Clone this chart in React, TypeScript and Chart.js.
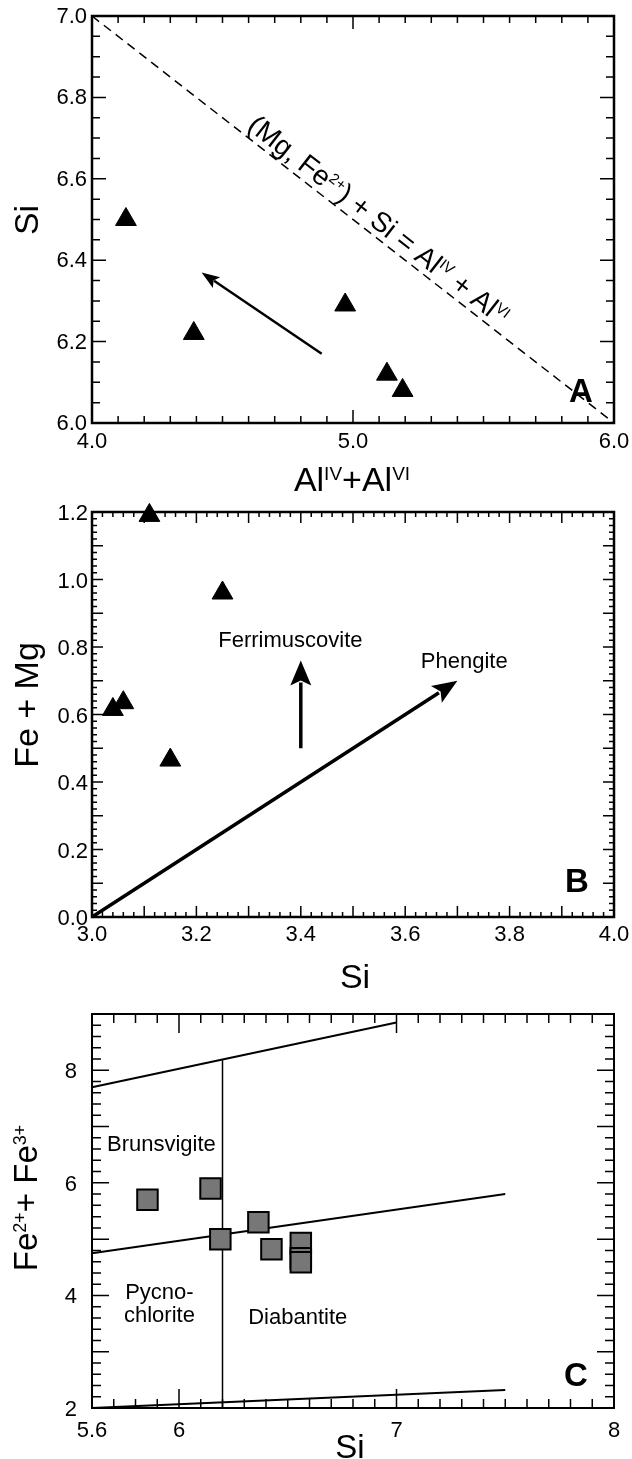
import React, { useEffect, useRef } from "react";
import { Chart, registerables } from "chart.js";
Chart.register(...registerables);

const FONT = '"Liberation Sans", Arial, Helvetica, sans-serif';

// ---------------- Panel A data ----------------
const A_AL = [4.13, 4.39, 4.97, 5.13, 5.19];
const A_SI = [6.5, 6.22, 6.29, 6.12, 6.08];
const A_EQ_AL = [4.0, 6.0];
const A_EQ_SI = [7.0, 6.0];
const A_TREND_ARROW = [4.88, 6.17, 4.42, 6.37]; // from x,y to x,y
const A_EQ_LABEL_AT = [5.1, 6.5];
const A_X_TICKS = [4.0, 5.0, 6.0];
const A_X_TICK_LABELS = ["4.0", "5.0", "6.0"];
const A_Y_TICKS = [6.0, 6.2, 6.4, 6.6, 6.8, 7.0];
const A_Y_TICK_LABELS = ["6.0", "6.2", "6.4", "6.6", "6.8", "7.0"];

// ---------------- Panel B data ----------------
const B_SI = [3.11, 3.25, 3.04, 3.06, 3.15];
const B_FEMG = [1.19, 0.96, 0.615, 0.635, 0.465];
const B_FERRI_ARROW = [3.4, 0.5, 3.4, 0.76];
const B_PHENG_ARROW = [3.0, 0.0, 3.7, 0.7];
const B_FERRI_LABEL_AT = [3.38, 0.822];
const B_PHENG_LABEL_AT = [3.713, 0.762];
const B_X_TICKS = [3.0, 3.2, 3.4, 3.6, 3.8, 4.0];
const B_X_TICK_LABELS = ["3.0", "3.2", "3.4", "3.6", "3.8", "4.0"];
const B_Y_TICKS = [0.0, 0.2, 0.4, 0.6, 0.8, 1.0, 1.2];
const B_Y_TICK_LABELS = ["0.0", "0.2", "0.4", "0.6", "0.8", "1.0", "1.2"];

// ---------------- Panel C data ----------------
const C_SI = [5.855, 6.145, 6.19, 6.365, 6.425, 6.56, 6.56, 6.56];
const C_FE = [5.7, 5.9, 5.0, 5.3, 4.82, 4.93, 4.66, 4.59];
const C_UPPER_SI = [5.6, 7.0];
const C_UPPER_FE = [7.7, 8.85];
const C_MID_SI = [5.6, 7.5];
const C_MID_FE = [4.75, 5.8];
const C_LOW_SI = [5.6, 7.5];
const C_LOW_FE = [2.0, 2.32];
const C_VERT_SI = [6.2, 6.2];
const C_VERT_FE = [2.0, 8.18];
const C_FIELD_NAMES = ["Brunsvigite", "Pycno-", "chlorite", "Diabantite"];
const C_FIELD_SI = [5.919, 5.91, 5.91, 6.546];
const C_FIELD_FE = [6.7, 4.07, 3.66, 3.63];
const C_X_TICKS = [5.6, 6, 7, 8];
const C_X_TICK_LABELS = ["5.6", "6", "7", "8"];
const C_Y_TICKS = [2, 4, 6, 8];
const C_Y_TICK_LABELS = ["2", "4", "6", "8"];

// ---------------- helpers ----------------
type Part = { t: string; sup?: boolean };

function setFont(ctx: CanvasRenderingContext2D, size: number, bold = false) {
  ctx.font = `${bold ? "bold " : ""}${size}px ${FONT}`;
}

function richWidth(ctx: CanvasRenderingContext2D, parts: Part[], size: number, sup: number, bold = false) {
  let w = 0;
  for (const p of parts) {
    setFont(ctx, p.sup ? sup : size, bold);
    w += ctx.measureText(p.t).width;
  }
  return w;
}

function drawRichAt(
  ctx: CanvasRenderingContext2D,
  parts: Part[],
  cx: number,
  cy: number,
  angle: number,
  size: number,
  sup: number,
  bold = false
) {
  ctx.save();
  ctx.translate(cx, cy);
  ctx.rotate(angle);
  ctx.fillStyle = "#000";
  ctx.textAlign = "left";
  ctx.textBaseline = "alphabetic";
  const w = richWidth(ctx, parts, size, sup, bold);
  let x = -w / 2;
  const base = size * 0.36;
  for (const p of parts) {
    setFont(ctx, p.sup ? sup : size, bold);
    ctx.fillText(p.t, x, p.sup ? base - size * 0.34 : base);
    x += ctx.measureText(p.t).width;
  }
  ctx.restore();
}

function arrow(
  ctx: CanvasRenderingContext2D,
  x0: number,
  y0: number,
  x1: number,
  y1: number,
  lw: number,
  headLen: number,
  headW: number
) {
  const a = Math.atan2(y1 - y0, x1 - x0);
  const c = Math.cos(a);
  const s = Math.sin(a);
  const bx = x1 - headLen * c;
  const by = y1 - headLen * s;
  ctx.save();
  ctx.strokeStyle = "#000";
  ctx.fillStyle = "#000";
  ctx.lineWidth = lw;
  ctx.lineCap = "butt";
  ctx.beginPath();
  ctx.moveTo(x0, y0);
  ctx.lineTo(bx + 3 * c, by + 3 * s);
  ctx.stroke();
  ctx.beginPath();
  ctx.moveTo(x1, y1);
  ctx.lineTo(bx - (headW / 2) * s, by + (headW / 2) * c);
  ctx.lineTo(bx + headLen * 0.2 * c, by + headLen * 0.2 * s);
  ctx.lineTo(bx + (headW / 2) * s, by - (headW / 2) * c);
  ctx.closePath();
  ctx.fill();
  ctx.restore();
}

interface AxisDef {
  min: number;
  max: number;
  minor: number;
  mid?: number;
  major: number;
  minorLen: number;
  midLen?: number;
  majorLen: number;
}

function isMult(v: number, s: number) {
  return Math.abs(v / s - Math.round(v / s)) < 1e-6;
}

function tickList(a: AxisDef) {
  const n = Math.round((a.max - a.min) / a.minor);
  const out: { v: number; len: number }[] = [];
  for (let i = 0; i <= n; i++) {
    const v = a.min + i * a.minor;
    let len = a.minorLen;
    if (isMult(v, a.major)) len = a.majorLen;
    else if (a.mid && isMult(v, a.mid)) len = a.midLen || a.minorLen;
    out.push({ v, len });
  }
  return out;
}

interface PanelDef {
  canvasTop: number;
  canvasHeight: number;
  area: { left: number; right: number; top: number; bottom: number };
  x: AxisDef;
  y: AxisDef;
  xTicks: number[];
  xTickLabels: string[];
  yTicks: number[];
  yTickLabels: string[];
  tickFont: number;
  xLabelDy: number;
  yLabelDx: number;
  yLabelDy: number;
  borderWidth: number;
  tickWidth: number;
  xTitle: Part[];
  xTitlePos: [number, number];
  yTitle: Part[];
  yTitlePos: [number, number];
  titleSize: number;
  letter: string;
  letterPos: [number, number];
  datasets: any[];
  extra?: (ctx: CanvasRenderingContext2D, px: (v: number) => number, py: (v: number) => number, top: number) => void;
}

function buildConfig(def: PanelDef): any {
  const W = 632;
  const T = def.canvasTop;
  const frame = {
    id: "frame",
    beforeDatasetsDraw(chart: any) {
      const ctx: CanvasRenderingContext2D = chart.ctx;
      const { left, right, top, bottom } = chart.chartArea;
      const xs = chart.scales.x;
      const ys = chart.scales.y;
      ctx.save();
      ctx.strokeStyle = "#000";
      ctx.lineWidth = def.tickWidth;
      ctx.beginPath();
      for (const t of tickList(def.x)) {
        const p = xs.getPixelForValue(t.v);
        ctx.moveTo(p, bottom);
        ctx.lineTo(p, bottom - t.len);
        ctx.moveTo(p, top);
        ctx.lineTo(p, top + t.len);
      }
      for (const t of tickList(def.y)) {
        const p = ys.getPixelForValue(t.v);
        ctx.moveTo(left, p);
        ctx.lineTo(left + t.len, p);
        ctx.moveTo(right, p);
        ctx.lineTo(right - t.len, p);
      }
      ctx.stroke();
      ctx.lineWidth = def.borderWidth;
      ctx.strokeRect(left, top, right - left, bottom - top);
      ctx.restore();
    },
    afterDatasetsDraw(chart: any) {
      const ctx: CanvasRenderingContext2D = chart.ctx;
      const { left, bottom } = chart.chartArea;
      const xs = chart.scales.x;
      const ys = chart.scales.y;
      ctx.save();
      ctx.fillStyle = "#000";
      setFont(ctx, def.tickFont);
      ctx.textBaseline = "middle";
      ctx.textAlign = "center";
      def.xTicks.forEach((v, i) => {
        ctx.fillText(def.xTickLabels[i], xs.getPixelForValue(v), bottom + def.xLabelDy);
      });
      ctx.textAlign = "right";
      def.yTicks.forEach((v, i) => {
        ctx.fillText(def.yTickLabels[i], left - def.yLabelDx, ys.getPixelForValue(v) + def.yLabelDy);
      });
      ctx.restore();
      drawRichAt(ctx, def.xTitle, def.xTitlePos[0], def.xTitlePos[1] - T, 0, def.titleSize, Math.round(def.titleSize * 0.55));
      drawRichAt(ctx, def.yTitle, def.yTitlePos[0], def.yTitlePos[1] - T, -Math.PI / 2, def.titleSize, Math.round(def.titleSize * 0.55));
      drawRichAt(ctx, [{ t: def.letter }], def.letterPos[0], def.letterPos[1] - T, 0, 33, 18, true);
      if (def.extra) {
        def.extra(
          ctx,
          (v) => xs.getPixelForValue(v),
          (v) => ys.getPixelForValue(v),
          T
        );
      }
    },
  };
  return {
    type: "scatter",
    data: { datasets: def.datasets },
    options: {
      animation: false,
      responsive: false,
      devicePixelRatio: 1,
      events: [],
      layout: {
        padding: {
          left: def.area.left,
          right: W - def.area.right,
          top: def.area.top - T,
          bottom: T + def.canvasHeight - def.area.bottom,
        },
      },
      plugins: { legend: { display: false }, tooltip: { enabled: false } },
      scales: {
        x: { type: "linear", min: def.x.min, max: def.x.max, display: false },
        y: { type: "linear", min: def.y.min, max: def.y.max, display: false },
      },
    },
    plugins: [frame],
  };
}

function pts(xs: number[], ys: number[]) {
  return xs.map((x, i) => ({ x, y: ys[i] }));
}

function lineDs(xs: number[], ys: number[], width: number, dash: number[] = []) {
  return {
    data: pts(xs, ys),
    showLine: true,
    borderColor: "#000",
    borderWidth: width,
    borderDash: dash,
    pointRadius: 0,
    fill: false,
    clip: false,
  };
}

function triDs(xs: number[], ys: number[]) {
  return {
    data: pts(xs, ys),
    pointStyle: "triangle",
    pointRadius: 12,
    backgroundColor: "#000",
    borderColor: "#000",
    borderWidth: 1,
    showLine: false,
    clip: false,
  };
}

const panelA: PanelDef = {
  canvasTop: 0,
  canvasHeight: 500,
  area: { left: 92, right: 614, top: 16, bottom: 423 },
  x: { min: 4, max: 6, minor: 0.1, major: 1, minorLen: 7, majorLen: 13 },
  y: { min: 6, max: 7, minor: 0.05, major: 0.2, minorLen: 8, majorLen: 14 },
  xTicks: A_X_TICKS,
  xTickLabels: A_X_TICK_LABELS,
  yTicks: A_Y_TICKS,
  yTickLabels: A_Y_TICK_LABELS,
  tickFont: 22,
  xLabelDy: 19,
  yLabelDx: 5,
  yLabelDy: 1,
  borderWidth: 2.5,
  tickWidth: 1.5,
  xTitle: [{ t: "Al" }, { t: "IV", sup: true }, { t: "+Al" }, { t: "VI", sup: true }],
  xTitlePos: [352, 479],
  yTitle: [{ t: "Si" }],
  yTitlePos: [26, 220],
  titleSize: 34,
  letter: "A",
  letterPos: [581, 390],
  datasets: [triDs(A_AL, A_SI), lineDs(A_EQ_AL, A_EQ_SI, 1.5, [9, 6])],
  extra(ctx, px, py) {
    arrow(ctx, px(A_TREND_ARROW[0]), py(A_TREND_ARROW[1]), px(A_TREND_ARROW[2]), py(A_TREND_ARROW[3]), 2.5, 18, 13);
    const ang = Math.atan2(py(A_EQ_SI[1]) - py(A_EQ_SI[0]), px(A_EQ_AL[1]) - px(A_EQ_AL[0]));
    drawRichAt(
      ctx,
      [
        { t: "(Mg, Fe" },
        { t: "2+", sup: true },
        { t: ") + Si = Al" },
        { t: "IV", sup: true },
        { t: " + Al" },
        { t: "VI", sup: true },
      ],
      px(A_EQ_LABEL_AT[0]),
      py(A_EQ_LABEL_AT[1]),
      ang,
      28,
      15
    );
  },
};

const panelB: PanelDef = {
  canvasTop: 470,
  canvasHeight: 530,
  area: { left: 92, right: 614, top: 512, bottom: 917 },
  x: { min: 3, max: 4, minor: 0.02, mid: 0.1, major: 0.2, minorLen: 5, midLen: 11, majorLen: 11 },
  y: { min: 0, max: 1.2, minor: 0.02, mid: 0.1, major: 0.2, minorLen: 5, midLen: 11, majorLen: 11 },
  xTicks: B_X_TICKS,
  xTickLabels: B_X_TICK_LABELS,
  yTicks: B_Y_TICKS,
  yTickLabels: B_Y_TICK_LABELS,
  tickFont: 22,
  xLabelDy: 18,
  yLabelDx: 4,
  yLabelDy: 2,
  borderWidth: 2.5,
  tickWidth: 1.5,
  xTitle: [{ t: "Si" }],
  xTitlePos: [355, 976],
  yTitle: [{ t: "Fe + Mg" }],
  yTitlePos: [26, 705],
  titleSize: 34,
  letter: "B",
  letterPos: [577, 880],
  datasets: [triDs(B_SI, B_FEMG)],
  extra(ctx, px, py) {
    arrow(ctx, px(B_FERRI_ARROW[0]), py(B_FERRI_ARROW[1]), px(B_FERRI_ARROW[2]), py(B_FERRI_ARROW[3]), 3.5, 25, 21);
    arrow(ctx, px(B_PHENG_ARROW[0]), py(B_PHENG_ARROW[1]), px(B_PHENG_ARROW[2]), py(B_PHENG_ARROW[3]), 3.5, 25, 20);
    drawRichAt(ctx, [{ t: "Ferrimuscovite" }], px(B_FERRI_LABEL_AT[0]), py(B_FERRI_LABEL_AT[1]), 0, 22, 12);
    drawRichAt(ctx, [{ t: "Phengite" }], px(B_PHENG_LABEL_AT[0]), py(B_PHENG_LABEL_AT[1]), 0, 22, 12);
  },
};

const panelC: PanelDef = {
  canvasTop: 960,
  canvasHeight: 499,
  area: { left: 92, right: 614, top: 1014, bottom: 1408 },
  x: { min: 5.6, max: 8, minor: 0.1, major: 1, minorLen: 9, majorLen: 19 },
  y: { min: 2, max: 9, minor: 0.2, major: 1, minorLen: 9, majorLen: 17 },
  xTicks: C_X_TICKS,
  xTickLabels: C_X_TICK_LABELS,
  yTicks: C_Y_TICKS,
  yTickLabels: C_Y_TICK_LABELS,
  tickFont: 22,
  xLabelDy: 23,
  yLabelDx: 15,
  yLabelDy: 2,
  borderWidth: 2,
  tickWidth: 1.5,
  xTitle: [{ t: "Si" }],
  xTitlePos: [350, 1446],
  yTitle: [{ t: "Fe" }, { t: "2+", sup: true }, { t: "+ Fe" }, { t: "3+", sup: true }],
  yTitlePos: [25, 1198],
  titleSize: 33,
  letter: "C",
  letterPos: [576, 1374],
  datasets: [
    {
      data: pts(C_SI, C_FE),
      pointStyle: "rect",
      pointRadius: 14.5,
      backgroundColor: "#777777",
      borderColor: "#000",
      borderWidth: 2,
      showLine: false,
      clip: false,
    },
    lineDs(C_UPPER_SI, C_UPPER_FE, 2),
    lineDs(C_MID_SI, C_MID_FE, 2),
    lineDs(C_LOW_SI, C_LOW_FE, 2),
    lineDs(C_VERT_SI, C_VERT_FE, 1.5),
  ],
  extra(ctx, px, py) {
    C_FIELD_NAMES.forEach((n, i) => {
      drawRichAt(ctx, [{ t: n }], px(C_FIELD_SI[i]), py(C_FIELD_FE[i]), 0, 22, 12);
    });
  },
};

export default function App() {
  const refA = useRef<HTMLCanvasElement>(null);
  const refB = useRef<HTMLCanvasElement>(null);
  const refC = useRef<HTMLCanvasElement>(null);

  useEffect(() => {
    const charts: Chart[] = [];
    const pairs: [HTMLCanvasElement | null, PanelDef][] = [
      [refA.current, panelA],
      [refB.current, panelB],
      [refC.current, panelC],
    ];
    for (const [el, def] of pairs) {
      if (el) charts.push(new Chart(el, buildConfig(def)));
    }
    return () => charts.forEach((c) => c.destroy());
  }, []);

  const cs = (def: PanelDef): React.CSSProperties => ({
    position: "absolute",
    left: 0,
    top: def.canvasTop,
    width: 632,
    height: def.canvasHeight,
  });

  return (
    <div style={{ position: "absolute", left: 0, top: 0, width: 632, height: 1459, background: "#fff", overflow: "hidden" }}>
      <canvas ref={refA} width={632} height={panelA.canvasHeight} style={cs(panelA)} />
      <canvas ref={refB} width={632} height={panelB.canvasHeight} style={cs(panelB)} />
      <canvas ref={refC} width={632} height={panelC.canvasHeight} style={cs(panelC)} />
    </div>
  );
}
